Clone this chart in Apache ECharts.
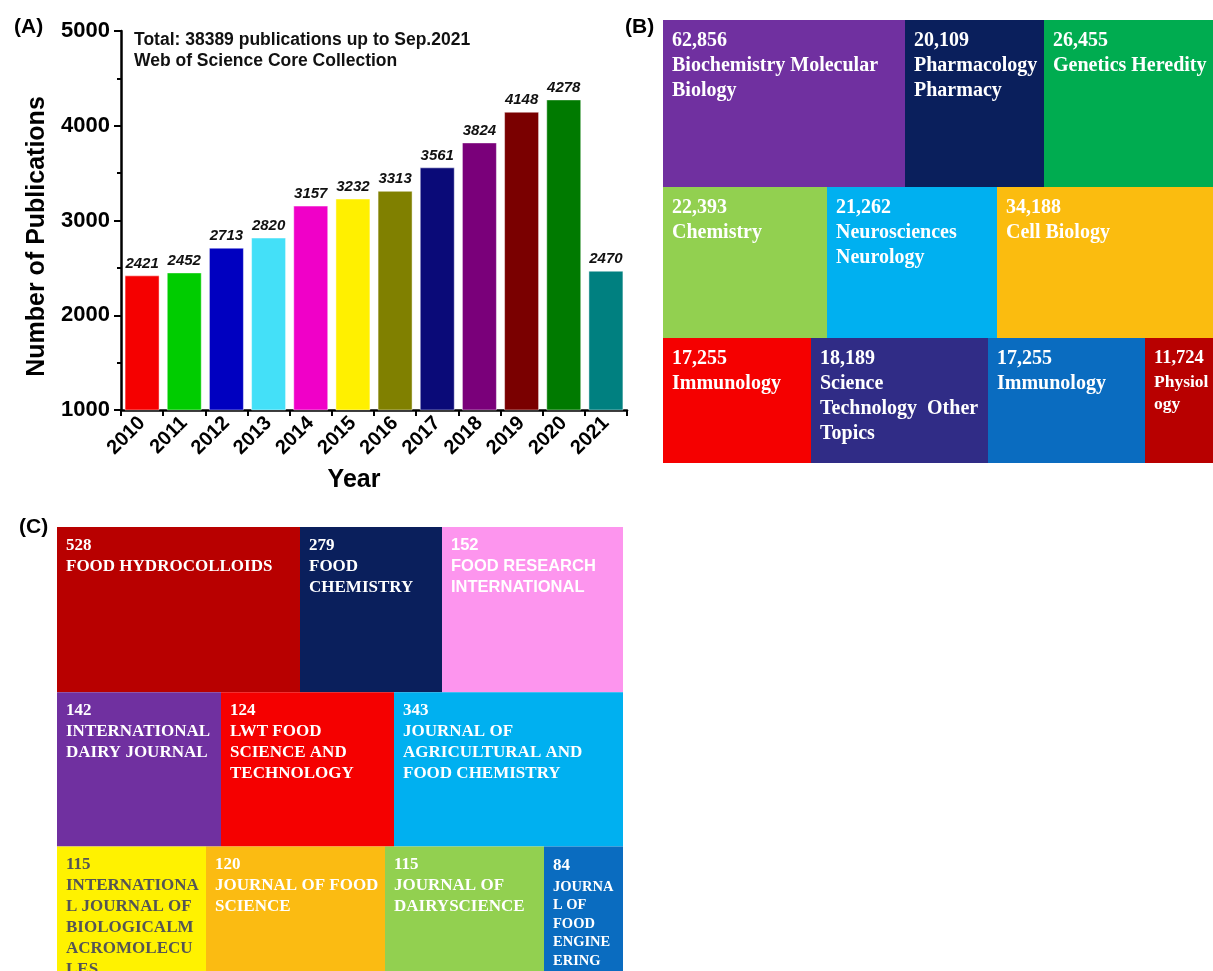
<!DOCTYPE html>
<html>
<head>
<meta charset="utf-8">
<script src="https://cdn.jsdelivr.net/npm/echarts@6/dist/echarts.min.js"></script>
<style>
  html, body { margin: 0; padding: 0; background: #fff; }
  #chart { width: 1213px; height: 971px; }
</style>
</head>
<body>
<div id="chart"></div>
<script>
// (A) publications per year
const years = ['2010', '2011', '2012', '2013', '2014', '2015', '2016', '2017', '2018', '2019', '2020', '2021'];
const pubs = [2421, 2452, 2713, 2820, 3157, 3232, 3313, 3561, 3824, 4148, 4278, 2470];
const yTicks = [1000, 5000, 1000]; // min, max, step

// (B) research areas, laid out row by row
const bNums = ['62,856', '20,109', '26,455', '22,393', '21,262', '34,188', '17,255', '18,189', '17,255', '11,724'];
const bNames = ['Biochemistry Molecular\nBiology', 'Pharmacology\nPharmacy', 'Genetics Heredity',
  'Chemistry', 'Neurosciences\nNeurology', 'Cell Biology',
  'Immunology', 'Science\nTechnology  Other\nTopics', 'Immunology', 'Physiol\nogy'];
const bRow = [0, 0, 0, 1, 1, 1, 2, 2, 2, 2];
const bShare = [242, 139, 169, 164, 170, 216, 148, 177, 157, 68];
const bRowShare = [167, 151, 125];

// (C) journals
const cNums = ['528', '279', '152', '142', '124', '343', '115', '120', '115', '84'];
const cNames = ['FOOD HYDROCOLLOIDS', 'FOOD\nCHEMISTRY', 'FOOD RESEARCH\nINTERNATIONAL',
  'INTERNATIONAL\nDAIRY JOURNAL', 'LWT FOOD\nSCIENCE AND\nTECHNOLOGY', 'JOURNAL OF\nAGRICULTURAL AND\nFOOD CHEMISTRY',
  'INTERNATIONA\nL JOURNAL OF\nBIOLOGICALM\nACROMOLECU\nLES', 'JOURNAL OF FOOD\nSCIENCE', 'JOURNAL OF\nDAIRYSCIENCE',
  'JOURNA\nL OF\nFOOD\nENGINE\nERING'];
const cRow = [0, 0, 0, 1, 1, 1, 2, 2, 2, 2];
const cShare = [243, 142, 181, 164, 173, 229, 149, 179, 159, 79];
const cRowShare = [166, 155, 125];

// styles
const barColors = ['#f50000', '#00cc00', '#0000c0', '#44e0f8', '#f000c8', '#fff000',
  '#808000', '#0a0a78', '#7a007a', '#7a0000', '#007a00', '#008080'];
const bColors = ['#7030a0', '#0a1f5c', '#00ac50', '#92d050', '#00b0f0', '#fbbc0f',
  '#f50000', '#302c86', '#0a6cc0', '#b80000'];
const cColors = ['#b80000', '#0a1f5c', '#fd95ee', '#7030a0', '#f50000', '#00b0f0',
  '#fff200', '#fbbb12', '#92d050', '#0a6cc0'];
const sans = 'Liberation Sans, Arial, sans-serif';
const serif = 'Liberation Serif, Times New Roman, serif';
const bText = { fontSize: 20, lineHeight: 25 };
// narrow cells: number line and name lines sized separately
const bNarrow = { 9: [{ fontSize: 18.5, lineHeight: 25 }, { fontSize: 17.5, lineHeight: 22 }] };
const cText = { fontSize: 17, lineHeight: 21 };
const cTextExtra = {
  2: { fontFamily: sans, fontSize: 16.5 },
  6: { fill: '#555555' },
};
const cNarrow = { 9: [{ fontSize: 17, lineHeight: 23 }, { fontSize: 14.5, lineHeight: 18.5 }] };

// turn row-wise shares into [x0, x1, y0, y1]
function cells(rows, shares, rowShares) {
  const out = [];
  let x = 0, lastRow = -1;
  rows.forEach((r, i) => {
    if (r !== lastRow) { x = 0; lastRow = r; }
    let y0 = 0;
    for (let k = 0; k < r; k++) y0 += rowShares[k];
    out.push([x, x + shares[i], y0, y0 + rowShares[r]]);
    x += shares[i];
  });
  return out;
}

function tileRenderer(nums, names, colors, textBase, extra, narrow) {
  return function (params, api) {
    const i = params.dataIndex;
    const p0 = api.coord([api.value(0), api.value(2)]);
    const p1 = api.coord([api.value(1), api.value(3)]);
    const st = Object.assign({
      text: nums[i] + '\n' + names[i],
      fill: '#ffffff',
      fontFamily: serif,
      fontWeight: 'bold',
      verticalAlign: 'top',
      align: 'left',
    }, textBase, (extra && extra[i]) || {});
    if (narrow && narrow[i]) {
      const base = { fill: st.fill, fontFamily: st.fontFamily, fontWeight: 'bold' };
      st.text = '{n|' + nums[i] + '}\n' + names[i].split('\n').map((s) => '{t|' + s + '}').join('\n');
      st.rich = {
        n: Object.assign({}, base, narrow[i][0]),
        t: Object.assign({}, base, narrow[i][1]),
      };
    }
    return {
      type: 'group',
      children: [
        {
          type: 'rect',
          shape: { x: p0[0], y: p0[1], width: p1[0] - p0[0], height: p1[1] - p0[1] },
          style: { fill: colors[i] },
        },
        { type: 'text', x: p0[0] + 9, y: p0[1] + 8, style: st },
      ],
    };
  };
}

const sum = (a) => a.reduce((s, v) => s + v, 0);
const bCells = cells(bRow, bShare, bRowShare);
const cCells = cells(cRow, cShare, cRowShare);

const chart = echarts.init(document.getElementById('chart'));
const panelLabel = { fontFamily: sans, fontSize: 21, fontWeight: 'bold', color: '#000' };

chart.setOption({
  animation: false,
  title: [
    { text: '(A)', left: 9, top: 12, textStyle: panelLabel },
    { text: '(B)', left: 620, top: 12, textStyle: panelLabel },
    { text: '(C)', left: 14, top: 512, textStyle: panelLabel },
    {
      text: 'Total: 38389 publications up to Sep.2021\nWeb of Science Core Collection',
      left: 129, top: 25,
      textStyle: { fontFamily: sans, fontSize: 17.5, fontWeight: 'bold', color: '#111', lineHeight: 21 },
    },
  ],
  grid: [
    { left: 121, top: 31, width: 506, height: 379 },
    { left: 663, top: 20, width: 550, height: 443 },
    { left: 57, top: 527, width: 566, height: sum(cRowShare) },
  ],
  xAxis: [
    {
      gridIndex: 0,
      type: 'category',
      data: years,
      name: 'Year',
      nameLocation: 'middle',
      nameGap: 58,
      nameTextStyle: { fontFamily: sans, fontSize: 25, fontWeight: 'bold', color: '#000', padding: [0, 40, 0, 0] },
      axisLine: { lineStyle: { color: '#000', width: 2.5 } },
      axisTick: { show: true, inside: false, length: 6, lineStyle: { color: '#000', width: 2 } },
      axisLabel: { rotate: 45, interval: 0, margin: 10, fontFamily: sans, fontSize: 20, fontWeight: 'bold', color: '#000' },
    },
    { gridIndex: 1, type: 'value', min: 0, max: sum(bShare.slice(0, 3)), show: false },
    { gridIndex: 2, type: 'value', min: 0, max: sum(cShare.slice(0, 3)), show: false },
  ],
  yAxis: [
    {
      gridIndex: 0,
      type: 'value',
      min: yTicks[0],
      max: yTicks[1],
      interval: yTicks[2],
      name: 'Number of Publications',
      nameLocation: 'middle',
      nameGap: 71,
      nameTextStyle: { fontFamily: sans, fontSize: 25, fontWeight: 'bold', color: '#000', padding: [0, 32, 0, 0] },
      axisLine: { show: true, lineStyle: { color: '#000', width: 2.5 } },
      axisTick: { show: true, length: 7, lineStyle: { color: '#000', width: 2 } },
      minorTick: { show: true, splitNumber: 2, length: 4, lineStyle: { color: '#000', width: 2 } },
      splitLine: { show: false },
      axisLabel: {
        margin: 11, fontFamily: sans, fontSize: 22, fontWeight: 'bold', color: '#000',
        formatter: (v) => String(v),
      },
    },
    { gridIndex: 1, type: 'value', min: 0, max: sum(bRowShare), inverse: true, show: false },
    { gridIndex: 2, type: 'value', min: 0, max: sum(cRowShare), inverse: true, show: false },
  ],
  series: [
    {
      type: 'bar',
      xAxisIndex: 0,
      yAxisIndex: 0,
      barCategoryGap: '17%',
      data: pubs.map((v, i) => ({
        value: v,
        itemStyle: { color: barColors[i], borderColor: 'rgba(255,255,255,0.45)', borderWidth: 1 },
      })),
      label: {
        show: true,
        position: 'top',
        distance: 4,
        fontFamily: sans,
        fontSize: 15,
        fontStyle: 'italic',
        fontWeight: 'bold',
        color: '#111',
      },
    },
    {
      type: 'custom',
      xAxisIndex: 1,
      yAxisIndex: 1,
      data: bCells,
      renderItem: tileRenderer(bNums, bNames, bColors, bText, null, bNarrow),
    },
    {
      type: 'custom',
      xAxisIndex: 2,
      yAxisIndex: 2,
      data: cCells,
      renderItem: tileRenderer(cNums, cNames, cColors, cText, cTextExtra, cNarrow),
    },
  ],
});
</script>
</body>
</html>
